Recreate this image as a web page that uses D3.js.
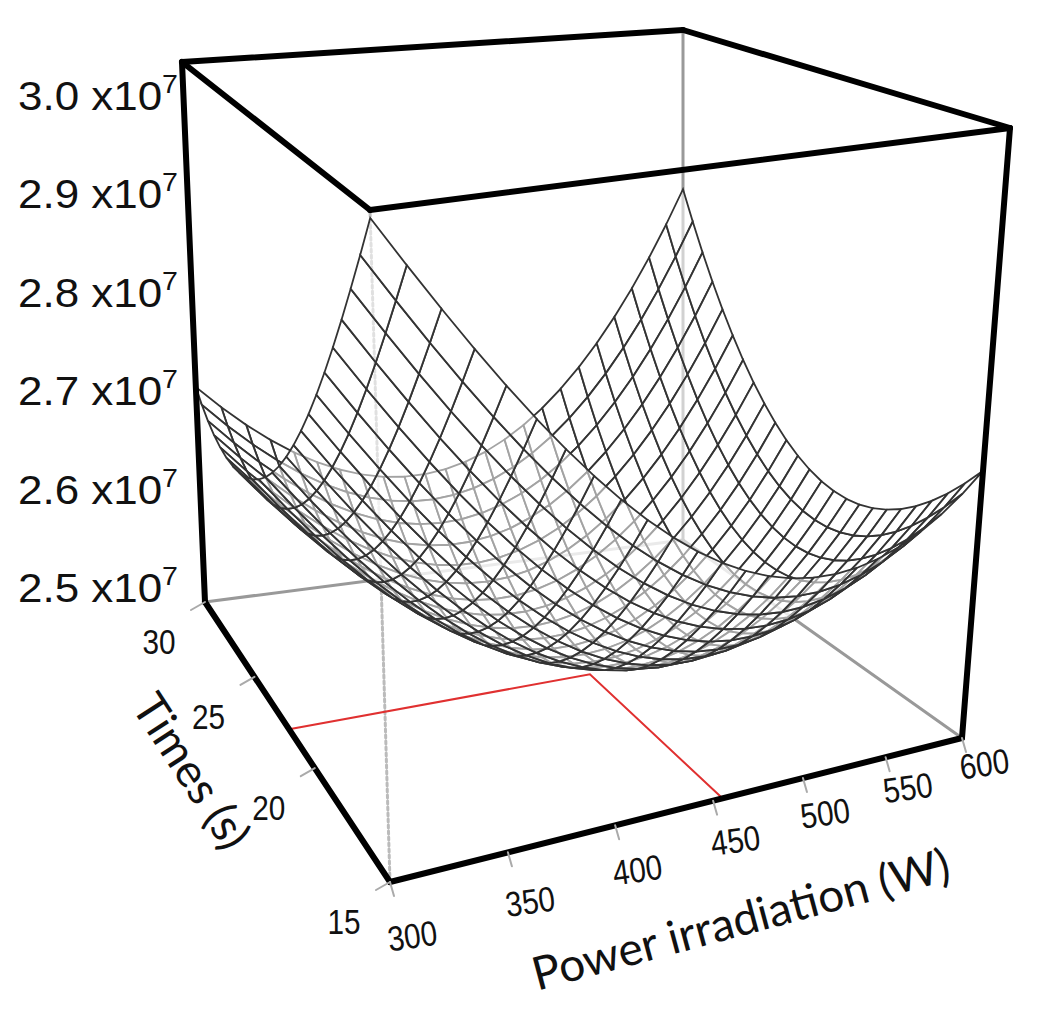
<!DOCTYPE html>
<html><head><meta charset="utf-8">
<script src="https://cdn.jsdelivr.net/npm/d3@7"></script>
<style>body{margin:0;background:#fff}text{font-family:"Liberation Sans",Arial,sans-serif;fill:#111}</style>
</head><body><svg id="c" width="1052" height="1015"></svg>
<script>
// ---- data ----
const powerTicks = [300,350,400,450,500,550,600];
const timeTicks = [15,20,25,30];
const zTicks = [2.5,2.6,2.7,2.8,2.9,3.0];
// quadratic response-surface coefficients (units 1e7): [const, u, v, u^2, v^2, uv]
const modelCoefficients = [2.504,-0.0325,-0.0425,0.17,0.14,0.105];
const optimum = [455, 22];
const gridN = 24;

const svg = d3.select("#c");
const uS = d3.scaleLinear().domain([300,600]).range([0,1]);
const vS = d3.scaleLinear().domain([15,30]).range([0,1]);
const zS = d3.scaleLinear().domain([2.5,3.0]).range([0,1]);

function homog(src,dst){
  const A=[],b=[];
  for(let i=0;i<4;i++){const [x,y]=src[i],[X,Y]=dst[i];
    A.push([x,y,1,0,0,0,-x*X,-y*X]);b.push(X);
    A.push([0,0,0,x,y,1,-x*Y,-y*Y]);b.push(Y);}
  const n=8;for(let i=0;i<n;i++){let m=i;for(let r=i+1;r<n;r++)if(Math.abs(A[r][i])>Math.abs(A[m][i]))m=r;
    [A[i],A[m]]=[A[m],A[i]];[b[i],b[m]]=[b[m],b[i]];
    for(let r=0;r<n;r++)if(r!==i){const f=A[r][i]/A[i][i];for(let c=i;c<n;c++)A[r][c]-=f*A[i][c];b[r]-=f*b[i];}}
  const h=b.map((v,i)=>v/A[i][i]);
  return (x,y)=>{const w=h[6]*x+h[7]*y+1;return [(h[0]*x+h[1]*y+h[2])/w,(h[3]*x+h[4]*y+h[5])/w];};
}
const sq=[[0,0],[1,0],[0,1],[1,1]];
const floorH = homog(sq,[[390,882],[962,738],[205,602],[683,540]]);
const topH = homog(sq,[[370,210],[1010,128],[182,62],[683,30]]);
function P(p,t,z){const u=uS(p),v=vS(t),w=zS(z);const a=floorH(u,v),b=topH(u,v);
  return [a[0]+(b[0]-a[0])*w,a[1]+(b[1]-a[1])*w];}
function Z(p,t){const u=(p-450)/150,v=(t-22.5)/7.5,c=modelCoefficients;
  return c[0]+c[1]*u+c[2]*v+c[3]*u*u+c[4]*v*v+c[5]*u*v;}
const line=d3.line();
function seg(a,b,col,w,dash){svg.append("path").attr("d",line([a,b])).attr("stroke",col).attr("stroke-width",w).attr("fill","none").attr("stroke-dasharray",dash||null).attr("stroke-linecap","round");}

seg(P(300,30,2.5),P(600,30,2.5),"#999",3);
seg(P(600,30,2.5),P(600,15,2.5),"#999",3);
seg(P(600,30,2.5),P(600,30,3.0),"#999",3);
seg(P(300,15,2.5),P(300,15,3.0),"#bbb",3,"3,3");
svg.append("path").attr("d",line([P(300,optimum[1],2.5),P(optimum[0],optimum[1],2.5),P(optimum[0],15,2.5)])).attr("stroke","#e03030").attr("stroke-width",2).attr("fill","none");

const ps=d3.range(gridN+1).map(i=>300+300*i/gridN), ts=d3.range(gridN+1).map(j=>15+15*j/gridN);
const quads=[];
for(let i=0;i<gridN;i++)for(let j=0;j<gridN;j++){
  const pts=[[ps[i],ts[j]],[ps[i+1],ts[j]],[ps[i+1],ts[j+1]],[ps[i],ts[j+1]]];
  const zc=d3.mean(pts,d=>Z(d[0],d[1]));
  quads.push({pts:pts.map(d=>P(d[0],d[1],Z(d[0],d[1]))),key:vS((ts[j]+ts[j+1])/2)-0.6*zS(zc)});
}
quads.sort((a,b)=>b.key-a.key);
svg.append("g").selectAll("path").data(quads).join("path")
  .attr("d",d=>line(d.pts)+"Z").attr("fill","rgba(255,255,255,0.55)").attr("stroke","#333").attr("stroke-width",1.8);

const K="#000";
[[[300,15,3],[600,15,3]],[[600,15,3],[600,30,3]],[[600,30,3],[300,30,3]],[[300,30,3],[300,15,3]],
 [[300,30,2.5],[300,30,3]],[[600,15,2.5],[600,15,3]],[[300,15,2.5],[600,15,2.5]],[[300,15,2.5],[300,30,2.5]]]
 .forEach(([a,b])=>seg(P(...a),P(...b),K,6));

timeTicks.forEach(t=>{const a=P(300,t,2.5);seg(a,[a[0]-14,a[1]+8],"#aaa",2);
  svg.append("text").attr("transform",`translate(${a[0]-46},${a[1]+52}) scale(0.85,1)`).attr("font-size",35).attr("text-anchor","middle").text(t);});
powerTicks.forEach(p=>{const a=P(p,15,2.5);const f=uS(p);seg(a,[a[0]+4,a[1]+14],"#aaa",2);
  svg.append("text").attr("transform",`translate(${a[0]+24},${a[1]+66-28*f}) rotate(-8) scale(0.85,1)`).attr("font-size",35).attr("text-anchor","middle").text(p);});
const zy=d3.scaleLinear().domain([2.5,3.0]).range([602,110]);
zTicks.forEach(z=>{const t=svg.append("text").attr("x",18).attr("y",zy(z)).attr("font-size",40).attr("textLength",160).attr("lengthAdjust","spacingAndGlyphs");
  t.append("tspan").text(z.toFixed(1)+" x10");t.append("tspan").attr("dy",-17).attr("font-size",26).text("7");});
svg.append("text").attr("transform","translate(178,780) rotate(57)").attr("text-anchor","middle")
  .style("font-family","Lato, sans-serif").attr("font-size",46).text("Times (s)");
svg.append("text").attr("transform","translate(745,935) rotate(-15)").attr("text-anchor","middle")
  .style("font-family","Lato, sans-serif").attr("font-size",46).text("Power irradiation (W)");
</script></body></html>
